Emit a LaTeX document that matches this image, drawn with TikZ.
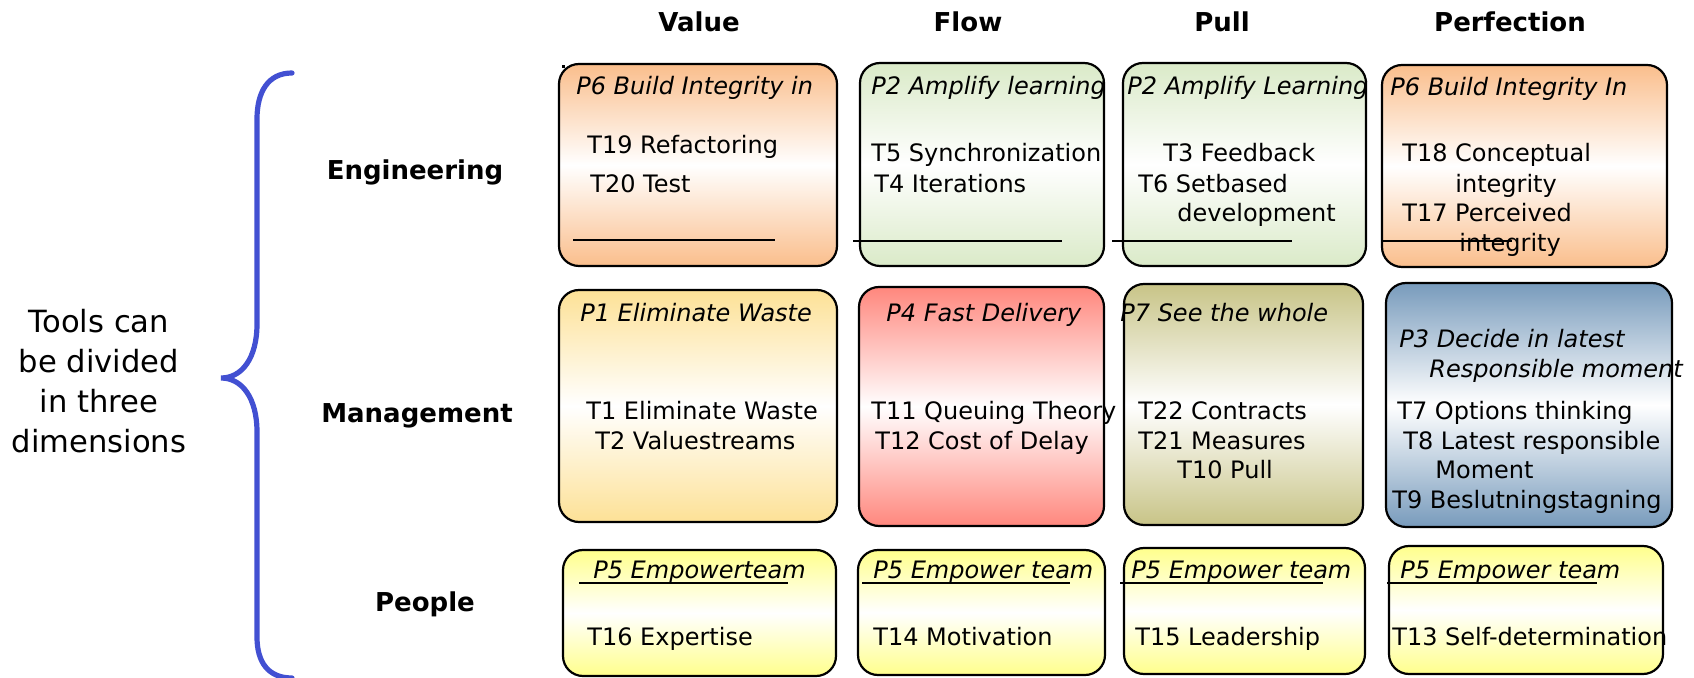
\documentclass[tikz,border=0pt]{standalone}
\usepackage{fontspec}
\setmainfont{DejaVu Sans}
\usepackage{xcolor}
\usepackage{tikz}
\usetikzlibrary{fit, positioning}
\definecolor{buildOrange}{RGB}{250,190,140}
\definecolor{learnGreen}{RGB}{218,234,200}
\definecolor{wasteYellow}{RGB}{253,225,150}
\definecolor{deliveryRed}{RGB}{255,135,125}
\definecolor{wholeOlive}{RGB}{200,196,135}
\definecolor{decideBlue}{RGB}{120,155,188}
\definecolor{teamYellow}{RGB}{255,255,140}
\definecolor{braceBlue}{RGB}{66,80,210}

\begin{document}
\begin{tikzpicture}[
    x=0.5pt, y=-0.5pt,
    cell/.style={rectangle, rounded corners=10pt, draw=black, line width=1.1pt, inner sep=0pt, top color=#1, bottom color=#1, middle color=white},
    princ/.style={anchor=base west, inner sep=0pt, yshift=-1pt, font=\fontsize{12}{14}\selectfont\itshape},
    tool/.style={anchor=base west, inner sep=0pt, yshift=-1pt, font=\fontsize{12}{14}\selectfont},
    colhead/.style={anchor=base, inner sep=0pt, yshift=-0.5pt, font=\fontsize{13}{15}\selectfont\bfseries},
    dimlabel/.style={anchor=base, inner sep=0pt, font=\fontsize{13}{15}\selectfont\bfseries},
    sepline/.style={line width=1pt, black},
    bracepath/.style={line width=2.6pt, draw=braceBlue, line cap=round}
]
\useasboundingbox (0,0) rectangle (1694,678);

% column heads
\node[colhead] (hValue) at (699,31) {Value};
\node[colhead] (hFlow) at (968,31) {Flow};
\node[colhead] (hPull) at (1222,31) {Pull};
\node[colhead] (hPerf) at (1510,31) {Perfection};

% row labels
\node[dimlabel] (rEng) at (415,180) {Engineering};
\node[dimlabel] (rMan) at (417,423) {Management};
\node[dimlabel] (rPeo) at (425,612) {People};

% left text and brace
\node[font=\fontsize{15.3}{20}\selectfont, align=center] (tools) at (99,381) {Tools can\\be divided\\in three\\dimensions};
\draw[bracepath] (292,73) .. controls (268,73) and (257,92) .. (257,119) -- (257,324)
    .. controls (257,358) and (242,378) .. (221,378)
    .. controls (242,378) and (257,398) .. (257,432) -- (257,637)
    .. controls (257,662) and (268,678) .. (292,678);

% boxes
\node[cell=buildOrange, fit={(559,64) (837,266)}] (engValue) {};
\node[cell=learnGreen, fit={(860,63) (1104,266)}] (engFlow) {};
\node[cell=learnGreen, fit={(1123,63) (1366,266)}] (engPull) {};
\node[cell=buildOrange, fit={(1382,65) (1667,267)}] (engPerf) {};
\node[cell=wasteYellow, fit={(559,290) (837,522)}] (manValue) {};
\node[cell=deliveryRed, fit={(859,287) (1104,526)}] (manFlow) {};
\node[cell=wholeOlive, fit={(1124,284) (1363,525)}] (manPull) {};
\node[cell=decideBlue, fit={(1386,283) (1672,527)}] (manPerf) {};
\node[cell=teamYellow, fit={(563,550) (836,676)}] (peoValue) {};
\node[cell=teamYellow, fit={(858,550) (1105,675)}] (peoFlow) {};
\node[cell=teamYellow, fit={(1124,548) (1365,674)}] (peoPull) {};
\node[cell=teamYellow, fit={(1389,546) (1663,674)}] (peoPerf) {};

% lines across the boxes
\draw[sepline] (573,240) -- (775,240);
\draw[sepline] (853,241) -- (1062,241);
\draw[sepline] (1112,241) -- (1292,241);
\draw[sepline] (1382,241) -- (1512,241);
\draw[sepline] (579,583) -- (788,583);
\draw[sepline] (862,583) -- (1070,583);
\draw[sepline] (1120,583) -- (1323,583);
\draw[sepline] (1387,583) -- (1597,583);
\fill (561.5,65.5) rectangle (564.5,68.5);

% engineering row
\node[princ] (p6a) at (576,93) {P6 Build Integrity in};
\node[tool] (t19) at (587,152) {T19 Refactoring};
\node[tool] (t20) at (590,191) {T20 Test};
\node[princ] (p2a) at (871,93) {P2 Amplify learning};
\node[tool] (t5) at (871,160) {T5 Synchronization};
\node[tool] (t4) at (874,191) {T4 Iterations};
\node[princ] (p2b) at (1127,93) {P2 Amplify Learning};
\node[tool] (t3) at (1163,160) {T3 Feedback};
\node[tool] (t6) at (1138,191) {T6 Setbased};
\node[tool] (t6b) at (1177,220) {development};
\node[princ] (p6b) at (1390,94) {P6 Build Integrity In};
\node[tool] (t18) at (1402,160) {T18 Conceptual};
\node[tool] (t18b) at (1455,191) {integrity};
\node[tool] (t17) at (1402,220) {T17 Perceived};
\node[tool] (t17b) at (1459,250) {integrity};

% management row
\node[princ] (p1) at (580,320) {P1 Eliminate Waste};
\node[tool] (t1) at (586,418) {T1 Eliminate Waste};
\node[tool] (t2) at (595,448) {T2 Valuestreams};
\node[princ] (p4) at (886,320) {P4 Fast Delivery};
\node[tool] (t11) at (871,418) {T11 Queuing Theory};
\node[tool] (t12) at (875,448) {T12 Cost of Delay};
\node[princ] (p7) at (1120,320) {P7 See the whole};
\node[tool] (t22) at (1138,418) {T22 Contracts};
\node[tool] (t21) at (1138,448) {T21 Measures};
\node[tool] (t10) at (1177,477) {T10 Pull};
\node[princ] (p3) at (1399,346) {P3 Decide in latest};
\node[princ] (p3b) at (1429,376) {Responsible moment};
\node[tool] (t7) at (1397,418) {T7 Options thinking};
\node[tool] (t8) at (1403,448) {T8 Latest responsible};
\node[tool] (t8b) at (1435,477) {Moment};
\node[tool] (t9) at (1392,507) {T9 Beslutningstagning};

% people row
\node[princ] (p5a) at (593,577) {P5 Empowerteam};
\node[tool] (t16) at (587,644) {T16 Expertise};
\node[princ] (p5b) at (873,577) {P5 Empower team};
\node[tool] (t14) at (873,644) {T14 Motivation};
\node[princ] (p5c) at (1131,577) {P5 Empower team};
\node[tool] (t15) at (1135,644) {T15 Leadership};
\node[princ] (p5d) at (1400,577) {P5 Empower team};
\node[tool] (t13) at (1392,644) {T13 Self-determination};
\end{tikzpicture}
\end{document}
